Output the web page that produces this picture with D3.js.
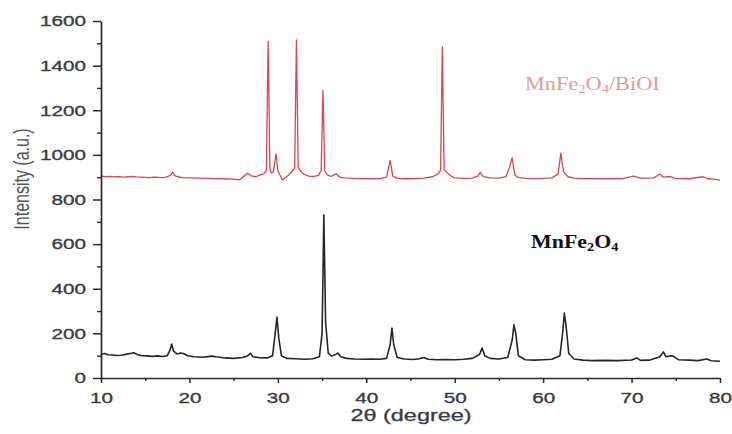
<!DOCTYPE html>
<html><head><meta charset="utf-8">
<script src="https://cdn.jsdelivr.net/npm/d3@7/dist/d3.min.js"></script>
<style>
html,body{margin:0;padding:0;background:#fff;}
svg{display:block;}
</style></head>
<body>
<div id="chart"></div>
<script>
// MnFe2O4/BiOI (red) : 2theta values and intensities
const compositeTheta = [10.0,10.5,11.0,11.5,12.0,12.5,13.0,13.5,14.0,14.5,15.0,15.5,16.0,16.5,17.0,17.5,17.9,18.1,18.3,18.7,19.2,20.0,21.0,22.0,23.0,24.0,25.0,25.7,26.2,26.6,27.0,27.5,28.0,28.4,28.7,28.9,29.1,29.3,29.5,29.8,30.0,30.5,31.0,31.5,31.9,32.1,32.3,32.6,33.0,33.5,34.0,34.6,34.9,35.1,35.3,35.6,36.0,36.6,37.0,37.5,38.5,39.5,40.5,41.5,42.3,42.7,43.0,43.5,44.5,45.5,46.5,47.5,48.1,48.4,48.6,48.8,49.2,49.6,50.0,51.0,52.0,52.6,52.9,53.2,54.0,55.0,55.8,56.2,56.5,56.8,57.2,58.0,59.0,60.0,61.0,61.7,62.0,62.3,62.8,63.5,64.5,66.0,67.5,69.0,70.2,71.0,72.5,73.2,73.6,74.4,75.0,76.5,78.1,78.6,79.3,80.0];
const compositeIntensity = [905,902,904,901,903,900,902,904,901,900,899,898,900,899,898,901,912,922,908,902,898,897,896,895,894,893,891,888,905,918,906,902,910,915,930,1510,935,918,925,1005,930,888,902,920,940,1515,945,925,912,905,903,908,930,1290,930,910,903,915,900,897,895,894,893,894,900,975,905,895,893,894,896,902,915,930,1484,935,918,905,897,895,896,905,922,903,897,896,903,945,986,910,898,895,894,895,897,915,1008,925,902,896,894,894,893,894,905,896,897,914,900,903,895,893,902,893,891,887];

// MnFe2O4 (black)
const ferriteTheta = [10.0,10.4,10.8,11.3,11.8,12.3,12.8,13.3,13.7,14.1,14.6,15.2,15.8,16.4,17.0,17.5,17.8,18.0,18.2,18.6,19.0,19.3,19.8,20.5,21.5,22.5,23.0,24.0,25.0,26.0,26.6,26.9,27.2,28.0,28.8,29.4,29.7,29.9,30.1,30.4,31.0,32.0,33.0,34.0,34.7,35.0,35.2,35.4,35.7,36.1,36.5,36.8,37.1,37.8,38.7,39.7,40.5,41.5,42.3,42.7,42.9,43.1,43.5,44.3,45.3,46.0,46.5,47.0,48.0,49.0,50.0,51.0,52.0,52.8,53.1,53.4,54.0,55.0,56.0,56.5,56.7,56.9,57.2,58.0,59.0,60.0,61.0,61.9,62.2,62.4,62.6,62.9,63.5,64.5,65.5,67.0,68.5,70.0,70.6,71.0,72.0,73.2,73.6,73.9,74.4,74.7,75.3,76.5,77.5,78.5,79.0,80.0];
const ferriteIntensity = [105,110,104,103,101,102,106,110,113,105,100,99,97,99,96,100,125,152,120,108,112,110,100,95,93,98,95,90,88,92,100,110,95,91,90,100,200,273,180,100,88,86,84,86,95,200,730,250,110,98,105,112,95,88,85,84,85,84,88,150,224,150,92,85,83,86,92,84,82,83,82,84,88,105,134,100,88,85,92,170,238,200,100,82,80,82,84,100,200,291,230,110,85,80,78,79,78,81,90,79,80,95,117,95,100,98,82,80,78,85,77,75];

const xTicks = [10,20,30,40,50,60,70,80];
const yTicks = [0,200,400,600,800,1000,1200,1400,1600];
const xLabel = "2θ (degree)";
const yLabel = "Intensity (a.u.)";

const W = 732, H = 434;
const SX = 1.38; // horizontal stretch of the original picture's text
const x = d3.scaleLinear().domain([10,80]).range([101,720]);
const y = d3.scaleLinear().domain([0,1600]).range([378,21]);

const svg = d3.select("#chart").append("svg").attr("width",W).attr("height",H);
svg.append("rect").attr("width",W).attr("height",H).attr("fill","#fff");

const line = d3.line().x(d=>x(d[0])).y(d=>y(d[1]));
const comp = compositeTheta.map((t,i)=>[t,compositeIntensity[i]]);
const ferr = ferriteTheta.map((t,i)=>[t,ferriteIntensity[i]]);

svg.append("path").datum(comp).attr("d",line).attr("fill","none")
  .attr("stroke","#d8474c").attr("stroke-width",1.3).attr("stroke-linejoin","round");
svg.append("path").datum(ferr).attr("d",line).attr("fill","none")
  .attr("stroke","#262626").attr("stroke-width",1.6).attr("stroke-linejoin","round");

const axisColor = "#2a2a2a";
const tickFont = "'Liberation Sans', Arial, sans-serif";
const textColor = "#3c3c3c";

// minor ticks
const xMinor = d3.axisBottom(x).tickValues([15,25,35,45,55,65,75]).tickSize(3).tickFormat("");
const yMinor = d3.axisLeft(y).tickValues([100,300,500,700,900,1100,1300,1500]).tickSize(4).tickFormat("");
svg.append("g").attr("transform","translate(0,378)").call(xMinor)
  .call(g=>g.select(".domain").remove()).selectAll("line").attr("stroke",axisColor).attr("stroke-width",1.4);
svg.append("g").attr("transform","translate(101,0)").call(yMinor)
  .call(g=>g.select(".domain").remove()).selectAll("line").attr("stroke",axisColor).attr("stroke-width",1.4);

const xAxis = d3.axisBottom(x).tickValues(xTicks).tickFormat(d3.format("d")).tickSize(5).tickSizeOuter(0).tickPadding(9);
const gx = svg.append("g").attr("transform","translate(0,378)").call(xAxis);
gx.select(".domain").attr("stroke",axisColor).attr("stroke-width",1.7);
gx.selectAll("line").attr("stroke",axisColor).attr("stroke-width",1.5);
gx.selectAll("text").attr("font-family",tickFont).attr("font-size",15).attr("fill",textColor)
  .attr("stroke",textColor).attr("stroke-width",0.35)
  .attr("transform",`scale(${SX},1)`);

const yAxis = d3.axisLeft(y).tickValues(yTicks).tickFormat(d3.format("d")).tickSize(8).tickSizeOuter(0);
const gy = svg.append("g").attr("transform","translate(101,0)").call(yAxis);
gy.select(".domain").attr("stroke",axisColor).attr("stroke-width",1.7);
gy.selectAll("line").attr("stroke",axisColor).attr("stroke-width",1.5);
gy.selectAll("text").attr("font-family",tickFont).attr("font-size",15).attr("fill",textColor)
  .attr("stroke",textColor).attr("stroke-width",0.35)
  .attr("x",-15/SX).attr("transform",`scale(${SX},1)`);

// axis titles
svg.append("text").attr("transform",`translate(411,421) scale(${SX},1)`)
  .attr("text-anchor","middle").attr("font-family",tickFont).attr("font-size",17).attr("fill",textColor)
  .attr("stroke",textColor).attr("stroke-width",0.3)
  .text(xLabel);
svg.append("text").attr("transform",`translate(29,179) scale(${SX},1) rotate(-90)`)
  .attr("text-anchor","middle").attr("font-family",tickFont).attr("font-size",16).attr("fill","#555")
  .text(yLabel);

// series annotations
function chem(parent, parts, attrs){
  const t = parent.append("text");
  Object.entries(attrs).forEach(([k,v])=>t.attr(k,v));
  parts.forEach(p=>{
    const s = t.append("tspan").text(p.t);
    if(p.sub){ s.attr("font-size","0.65em").attr("dy","0.22em"); }
    else if(p.after){ s.attr("dy","-0.14em"); }
  });
  return t;
}
const ann1 = svg.append("g").attr("transform",`translate(525,90) scale(1.24,1)`);
chem(ann1,[{t:"MnFe"},{t:"2",sub:true},{t:"O",after:true},{t:"4",sub:true},{t:"/BiOI",after:true}],
  {"font-family":"'Liberation Serif','Times New Roman',serif","font-size":18,"fill":"#e39a9c"});
const ann2 = svg.append("g").attr("transform",`translate(531,248) scale(1.22,1)`);
chem(ann2,[{t:"MnFe"},{t:"2",sub:true},{t:"O",after:true},{t:"4",sub:true}],
  {"font-family":"'Liberation Serif','Times New Roman',serif","font-size":18,"font-weight":"bold","fill":"#111"});
</script>
</body></html>
